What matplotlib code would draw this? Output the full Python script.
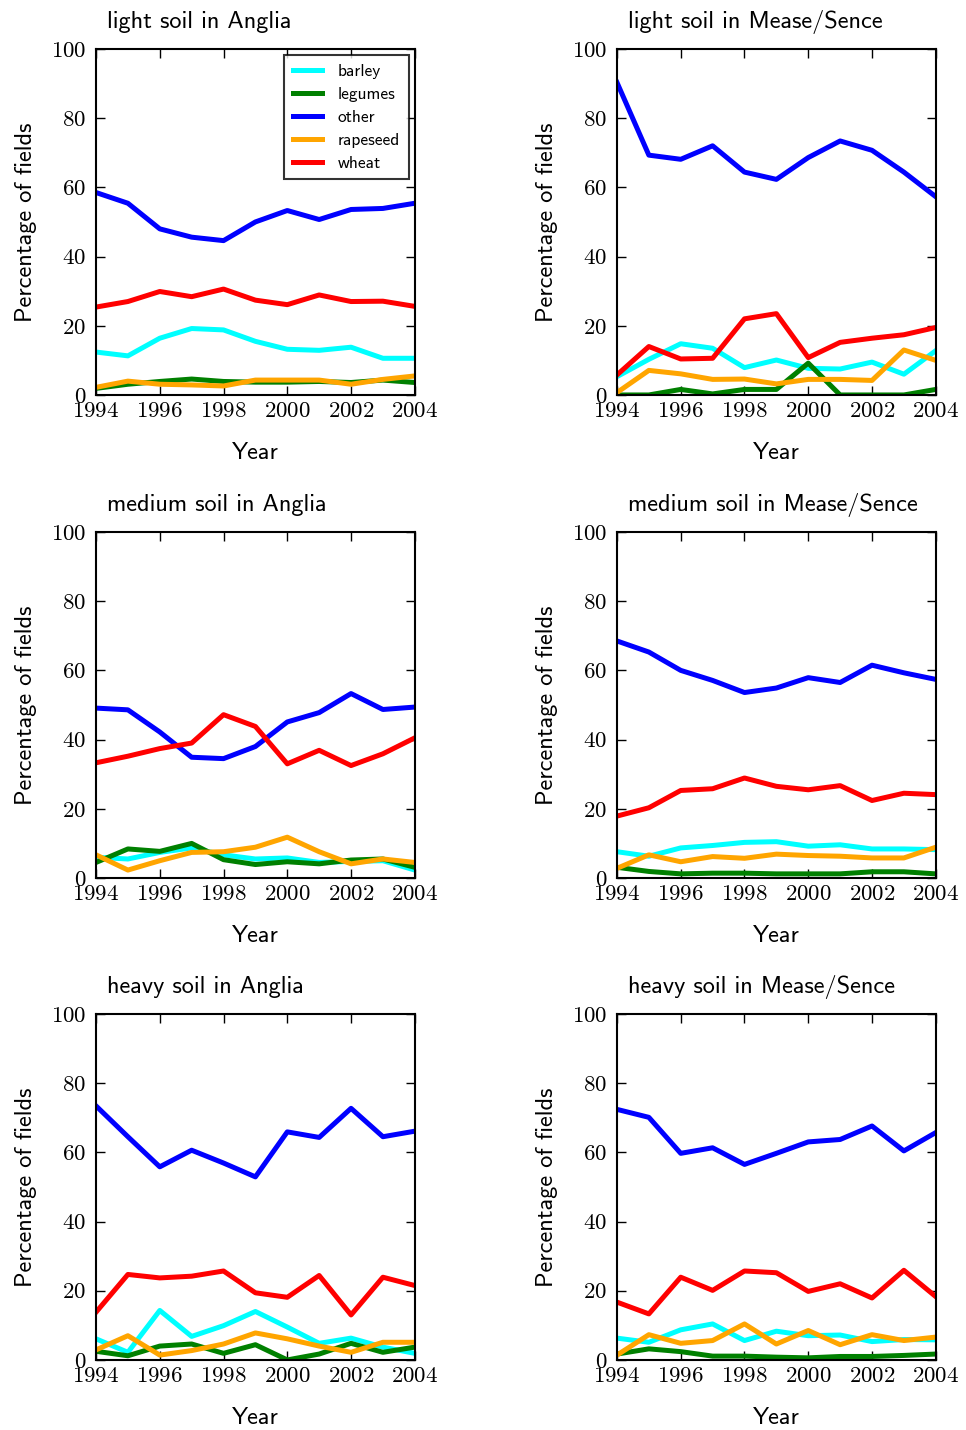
import matplotlib
matplotlib.use("Agg")
from matplotlib import pyplot as plt

years = list(range(1994, 2005))
crops = ["barley", "legumes", "other", "rapeseed", "wheat"]
colours = ["cyan", "green", "blue", "orange", "red"]

# light soil
light_anglia = {
    "barley":   [12.4, 11.3, 16.4, 19.2, 18.8, 15.5, 13.2, 12.9, 13.8, 10.6, 10.6],
    "legumes":  [1.9, 3.1, 3.9, 4.6, 3.9, 3.7, 3.7, 3.9, 3.6, 4.3, 3.6],
    "other":    [58.5, 55.4, 48.0, 45.6, 44.6, 50.0, 53.3, 50.7, 53.6, 53.9, 55.4],
    "rapeseed": [2.2, 4.0, 3.1, 2.9, 2.6, 4.3, 4.3, 4.3, 3.1, 4.5, 5.5],
    "wheat":    [25.4, 27.0, 29.9, 28.4, 30.6, 27.4, 26.1, 28.9, 27.0, 27.1, 25.6],
}
light_mease = {
    "barley":   [5.3, 10.3, 14.8, 13.5, 7.9, 10.1, 7.7, 7.5, 9.5, 6.0, 12.8],
    "legumes":  [0.0, 0.0, 1.6, 0.3, 1.6, 1.6, 9.2, 0.0, 0.0, 0.0, 1.6],
    "other":    [90.3, 69.3, 68.1, 72.0, 64.4, 62.3, 68.6, 73.4, 70.7, 64.4, 57.3],
    "rapeseed": [0.7, 7.1, 6.1, 4.5, 4.6, 3.2, 4.5, 4.5, 4.2, 13.0, 10.0],
    "wheat":    [5.8, 14.0, 10.4, 10.6, 22.0, 23.5, 10.8, 15.2, 16.4, 17.4, 19.5],
}

# medium soil
medium_anglia = {
    "barley":   [6.0, 5.5, 7.4, 8.7, 6.7, 5.5, 5.8, 4.5, 4.8, 5.0, 2.3],
    "legumes":  [4.5, 8.4, 7.7, 10.0, 5.3, 3.9, 4.7, 4.1, 5.2, 5.5, 3.1],
    "other":    [49.1, 48.6, 42.2, 34.9, 34.5, 38.0, 45.1, 47.8, 53.3, 48.7, 49.4],
    "rapeseed": [6.7, 2.3, 5.0, 7.4, 7.6, 8.9, 11.8, 7.6, 4.1, 5.5, 4.5],
    "wheat":    [33.3, 35.2, 37.4, 39.0, 47.2, 43.8, 33.0, 36.9, 32.5, 35.9, 40.5],
}
medium_mease = {
    "barley":   [7.6, 6.3, 8.7, 9.4, 10.3, 10.5, 9.2, 9.6, 8.4, 8.4, 8.2],
    "legumes":  [3.1, 1.9, 1.2, 1.4, 1.4, 1.2, 1.2, 1.2, 1.8, 1.8, 1.2],
    "other":    [68.5, 65.3, 60.0, 57.1, 53.6, 54.9, 57.9, 56.5, 61.5, 59.3, 57.4],
    "rapeseed": [2.8, 6.7, 4.7, 6.2, 5.7, 6.9, 6.5, 6.3, 5.8, 5.8, 8.9],
    "wheat":    [17.9, 20.3, 25.3, 25.8, 28.9, 26.5, 25.5, 26.7, 22.4, 24.5, 24.1],
}

# heavy soil
heavy_anglia = {
    "barley":   [6.1, 2.2, 14.3, 6.8, 9.9, 14.0, 9.5, 4.8, 6.3, 3.7, 1.9],
    "legumes":  [2.5, 1.2, 4.0, 4.6, 1.9, 4.4, 0.0, 1.7, 4.8, 2.2, 3.7],
    "other":    [73.4, 64.5, 55.8, 60.6, 56.9, 52.9, 65.9, 64.3, 72.7, 64.5, 66.1],
    "rapeseed": [2.9, 7.0, 1.4, 2.7, 4.6, 7.8, 6.1, 4.0, 2.2, 5.1, 5.1],
    "wheat":    [13.8, 24.7, 23.7, 24.2, 25.7, 19.4, 18.1, 24.4, 13.0, 23.9, 21.5],
}
heavy_mease = {
    "barley":   [6.3, 5.1, 8.7, 10.4, 5.6, 8.3, 7.0, 7.2, 5.3, 5.9, 5.8],
    "legumes":  [1.7, 3.2, 2.4, 1.1, 1.1, 0.8, 0.6, 1.0, 1.0, 1.3, 1.7],
    "other":    [72.4, 70.1, 59.7, 61.3, 56.5, 59.7, 63.0, 63.7, 67.6, 60.4, 65.7],
    "rapeseed": [1.4, 7.3, 4.8, 5.6, 10.4, 4.6, 8.5, 4.4, 7.3, 5.6, 6.6],
    "wheat":    [16.7, 13.3, 23.9, 20.1, 25.7, 25.2, 19.8, 22.0, 17.9, 25.9, 18.3],
}

panels = [
    ("light soil in Anglia", light_anglia),
    ("light soil in Mease/Sence", light_mease),
    ("medium soil in Anglia", medium_anglia),
    ("medium soil in Mease/Sence", medium_mease),
    ("heavy soil in Anglia", heavy_anglia),
    ("heavy soil in Mease/Sence", heavy_mease),
]

sans = "cmss10"
serif = "cmr10"
plt.rcParams["axes.formatter.use_mathtext"] = True

fig = plt.figure(figsize=(9.66, 14.3), dpi=100)

lefts = [0.0994, 0.6387]
bottoms = [0.7238, 0.386, 0.049]
w, h = 0.330, 0.242

for i, (title, data) in enumerate(panels):
    ax = fig.add_axes([lefts[i % 2], bottoms[i // 2], w, h])
    for crop, col in zip(crops, colours):
        ax.plot(years, data[crop], color=col, lw=3.6, label=crop)

    ax.set_xlim(1994, 2004)
    ax.set_ylim(0, 100)
    ax.set_xticks(range(1994, 2005, 2))
    ax.set_yticks(range(0, 101, 20))
    ax.tick_params(direction="in", top=True, right=True, length=6.5, width=1,
                   labelsize=16.5)
    ax.tick_params(axis="y", pad=7)
    ax.tick_params(axis="x", pad=5)
    for lab in ax.get_xticklabels() + ax.get_yticklabels():
        lab.set_family(serif)
    for sp in ax.spines.values():
        sp.set_linewidth(1.5)

    ax.text(0.034, 1.061, title, transform=ax.transAxes, fontsize=17.5,
            family=sans, va="baseline", ha="left")
    ax.set_xlabel("Year", fontsize=17.5, family=sans, labelpad=15)
    ax.set_ylabel("Percentage of fields", fontsize=17.5, family=sans, labelpad=10)

    if i == 0:
        leg = ax.legend(loc="upper right", prop={"family": sans, "size": 12.5},
                        fancybox=False, handlelength=1.7, borderaxespad=0.35,
                        labelspacing=0.45, handletextpad=0.9, borderpad=0.5)
        leg.get_frame().set_edgecolor("black")
        leg.get_frame().set_linewidth(1.5)

fig.savefig("out.png", dpi=100)
